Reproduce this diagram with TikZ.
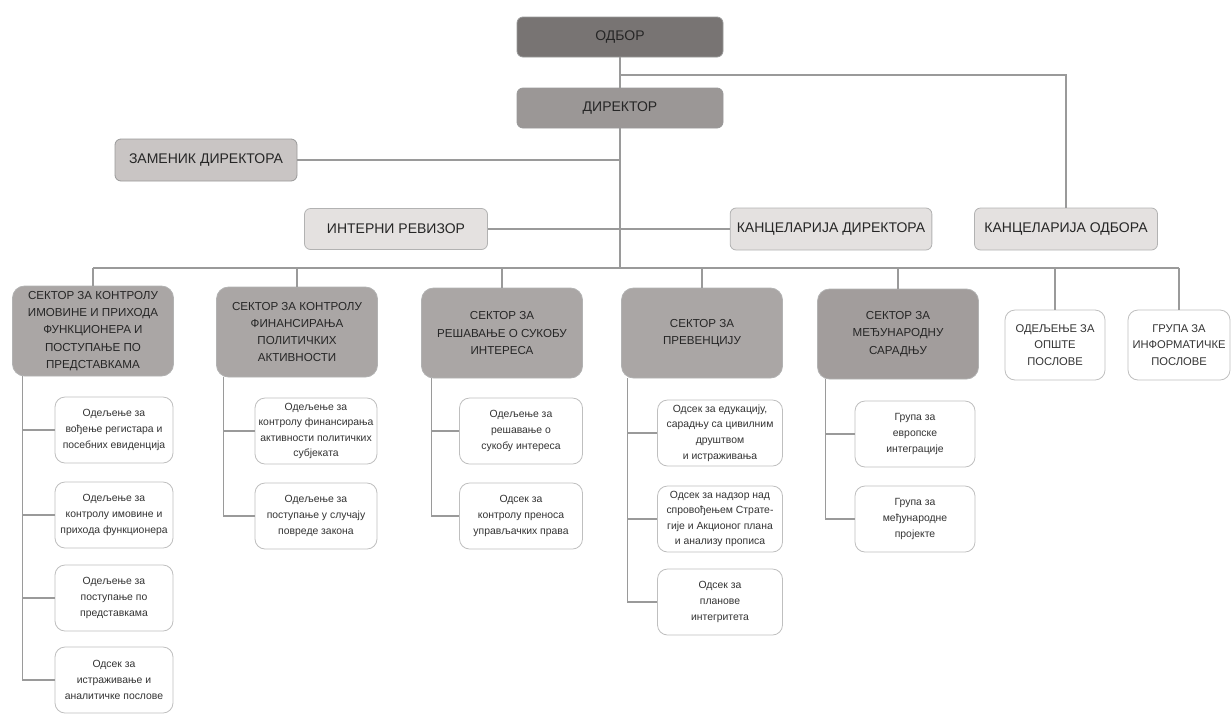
\documentclass[tikz,border=0pt]{standalone}
\usepackage{fontspec}
\setmainfont{Liberation Sans}
\usetikzlibrary{positioning,calc}
\definecolor{boardgray}{HTML}{787473}
\definecolor{headgray}{HTML}{9B9796}
\definecolor{sectgray}{HTML}{AAA6A5}
\definecolor{intlgray}{HTML}{A29D9C}
\definecolor{depgray}{HTML}{C9C5C4}
\definecolor{officegray}{HTML}{E4E1E0}
\definecolor{linegray}{HTML}{9A9A9A}

\begin{document}
\begin{tikzpicture}[x=0.5pt,y=-0.5pt,
    topbox/.style={draw=black!40, rounded corners=3pt, minimum width=103pt,
        minimum height=20pt, font=\fontsize{7}{8}\selectfont, text=black!85},
    sectbox/.style={draw=black!30, fill=sectgray, rounded corners=6pt, align=center,
        minimum width=80.5pt, minimum height=45pt, inner sep=1pt,
        font=\fontsize{5.8}{8.6}\selectfont, text=black!85},
    smallbox/.style={draw=black!25, fill=white, rounded corners=5pt, align=center,
        minimum height=35pt, inner sep=1pt,
        font=\fontsize{5.6}{8.2}\selectfont, text=black!80},
    unitbox/.style={draw=black!25, fill=white, rounded corners=5pt, align=center,
        minimum height=33pt, inner sep=1pt,
        font=\fontsize{5.2}{7.8}\selectfont, text=black!80},
    link/.style={draw=linegray, line width=0.6pt}]
    \useasboundingbox (0,0) rectangle (1231,713);

    % top of the chart
    \node[topbox, fill=boardgray] (odbor) at (620,37) {ОДБОР};
    \node[topbox, fill=headgray] (direktor) at (620,108) {ДИРЕКТОР};
    \node[topbox, fill=depgray, minimum width=91pt, minimum height=21pt]
        (zamenik) at (206,160) {ЗАМЕНИК ДИРЕКТОРА};
    \node[topbox, fill=officegray, draw=black!30, minimum width=91.5pt, minimum height=20.5pt]
        (revizor) at (396,229) {ИНТЕРНИ РЕВИЗОР};
    \node[topbox, fill=officegray, draw=black!30, minimum width=92pt, minimum height=21pt]
        (kancdir) at (831,229) {КАНЦЕЛАРИЈА ДИРЕКТОРА};
    \node[topbox, fill=officegray, draw=black!30, minimum width=91.5pt, minimum height=21pt]
        (kancodb) at (1066,229) {КАНЦЕЛАРИЈА ОДБОРА};

    \coordinate (odbline) at (620,75);
    \coordinate (bus) at (620,268);
    \draw[link] (odbor) -- (direktor);
    \draw[link] (odbline) -| (kancodb);
    \draw[link] (direktor) -- (bus);
    \draw[link] (zamenik.east) -- (zamenik.east -| direktor.south);
    \draw[link] (revizor) -- (kancdir);

    % sectors
    \node[sectbox] (s1) at (93,331)
        {СЕКТОР ЗА КОНТРОЛУ\\ИМОВИНЕ И ПРИХОДА\\ФУНКЦИОНЕРА И\\ПОСТУПАЊЕ ПО\\ПРЕДСТАВКАМА};
    \node[sectbox] (s2) at (297,332)
        {СЕКТОР ЗА КОНТРОЛУ\\ФИНАНСИРАЊА\\ПОЛИТИЧКИХ\\АКТИВНОСТИ};
    \node[sectbox] (s3) at (502,333)
        {СЕКТОР ЗА\\РЕШАВАЊЕ О СУКОБУ\\ИНТЕРЕСА};
    \node[sectbox] (s4) at (702,333)
        {СЕКТОР ЗА\\ПРЕВЕНЦИЈУ};
    \node[sectbox, fill=intlgray] (s5) at (898,334)
        {СЕКТОР ЗА\\МЕЂУНАРОДНУ\\САРАДЊУ};
    \node[smallbox, minimum width=50pt] (g6) at (1055,345)
        {ОДЕЉЕЊЕ ЗА\\ОПШТЕ\\ПОСЛОВЕ};
    \node[smallbox, minimum width=51pt] (g7) at (1179,345)
        {ГРУПА ЗА\\ИНФОРМАТИЧКЕ\\ПОСЛОВЕ};

    \draw[link] (s1.north |- bus) -- (g7.north |- bus);
    \foreach \n in {s1,s2,s3,s4,s5,g6,g7}
        \draw[link] (\n.north |- bus) -- (\n.north);

    % units under the sectors
    \node[unitbox, minimum width=59pt] (a1) at (114,430)
        {Одељење за\\вођење регистара и\\посебних евиденција};
    \node[unitbox, minimum width=59pt] (b1) at (114,515)
        {Одељење за\\контролу имовине и\\прихода функционера};
    \node[unitbox, minimum width=59pt] (c1) at (114,598)
        {Одељење за\\поступање по\\представкама};
    \node[unitbox, minimum width=59pt] (d1) at (114,680)
        {Одсек за\\истраживање и\\аналитичке послове};

    \node[unitbox, minimum width=61pt] (a2) at (316,431)
        {Одељење за\\контролу финансирања\\активности политичких\\субјеката};
    \node[unitbox, minimum width=61pt] (b2) at (316,516)
        {Одељење за\\поступање у случају\\повреде закона};

    \node[unitbox, minimum width=61.5pt] (a3) at (521,431)
        {Одељење за\\решавање о\\сукобу интереса};
    \node[unitbox, minimum width=61.5pt] (b3) at (521,516)
        {Одсек за\\контролу преноса\\управљачких права};

    \node[unitbox, minimum width=62.5pt] (a4) at (720,433)
        {Одсек за едукацију,\\сарадњу са цивилним\\друштвом\\и истраживања};
    \node[unitbox, minimum width=62.5pt] (b4) at (720,519)
        {Одсек за надзор над\\спровођењем Страте-\\гије и Акционог плана\\и анализу прописа};
    \node[unitbox, minimum width=62.5pt] (c4) at (720,602)
        {Одсек за\\планове\\интегритета};

    \node[unitbox, minimum width=60pt] (a5) at (915,434)
        {Група за\\европске\\интеграције};
    \node[unitbox, minimum width=60pt] (b5) at (915,519)
        {Група за\\међународне\\пројекте};

    \foreach \s/\dx/\kids in {s1/5pt/{a1,b1,c1,d1}, s2/3.5pt/{a2,b2},
            s3/5pt/{a3,b3}, s4/3pt/{a4,b4,c4}, s5/4pt/{a5,b5}}
        \foreach \k in \kids
            \draw[link] ([xshift=\dx]\s.south west) |- (\k.west);
\end{tikzpicture}
\end{document}
